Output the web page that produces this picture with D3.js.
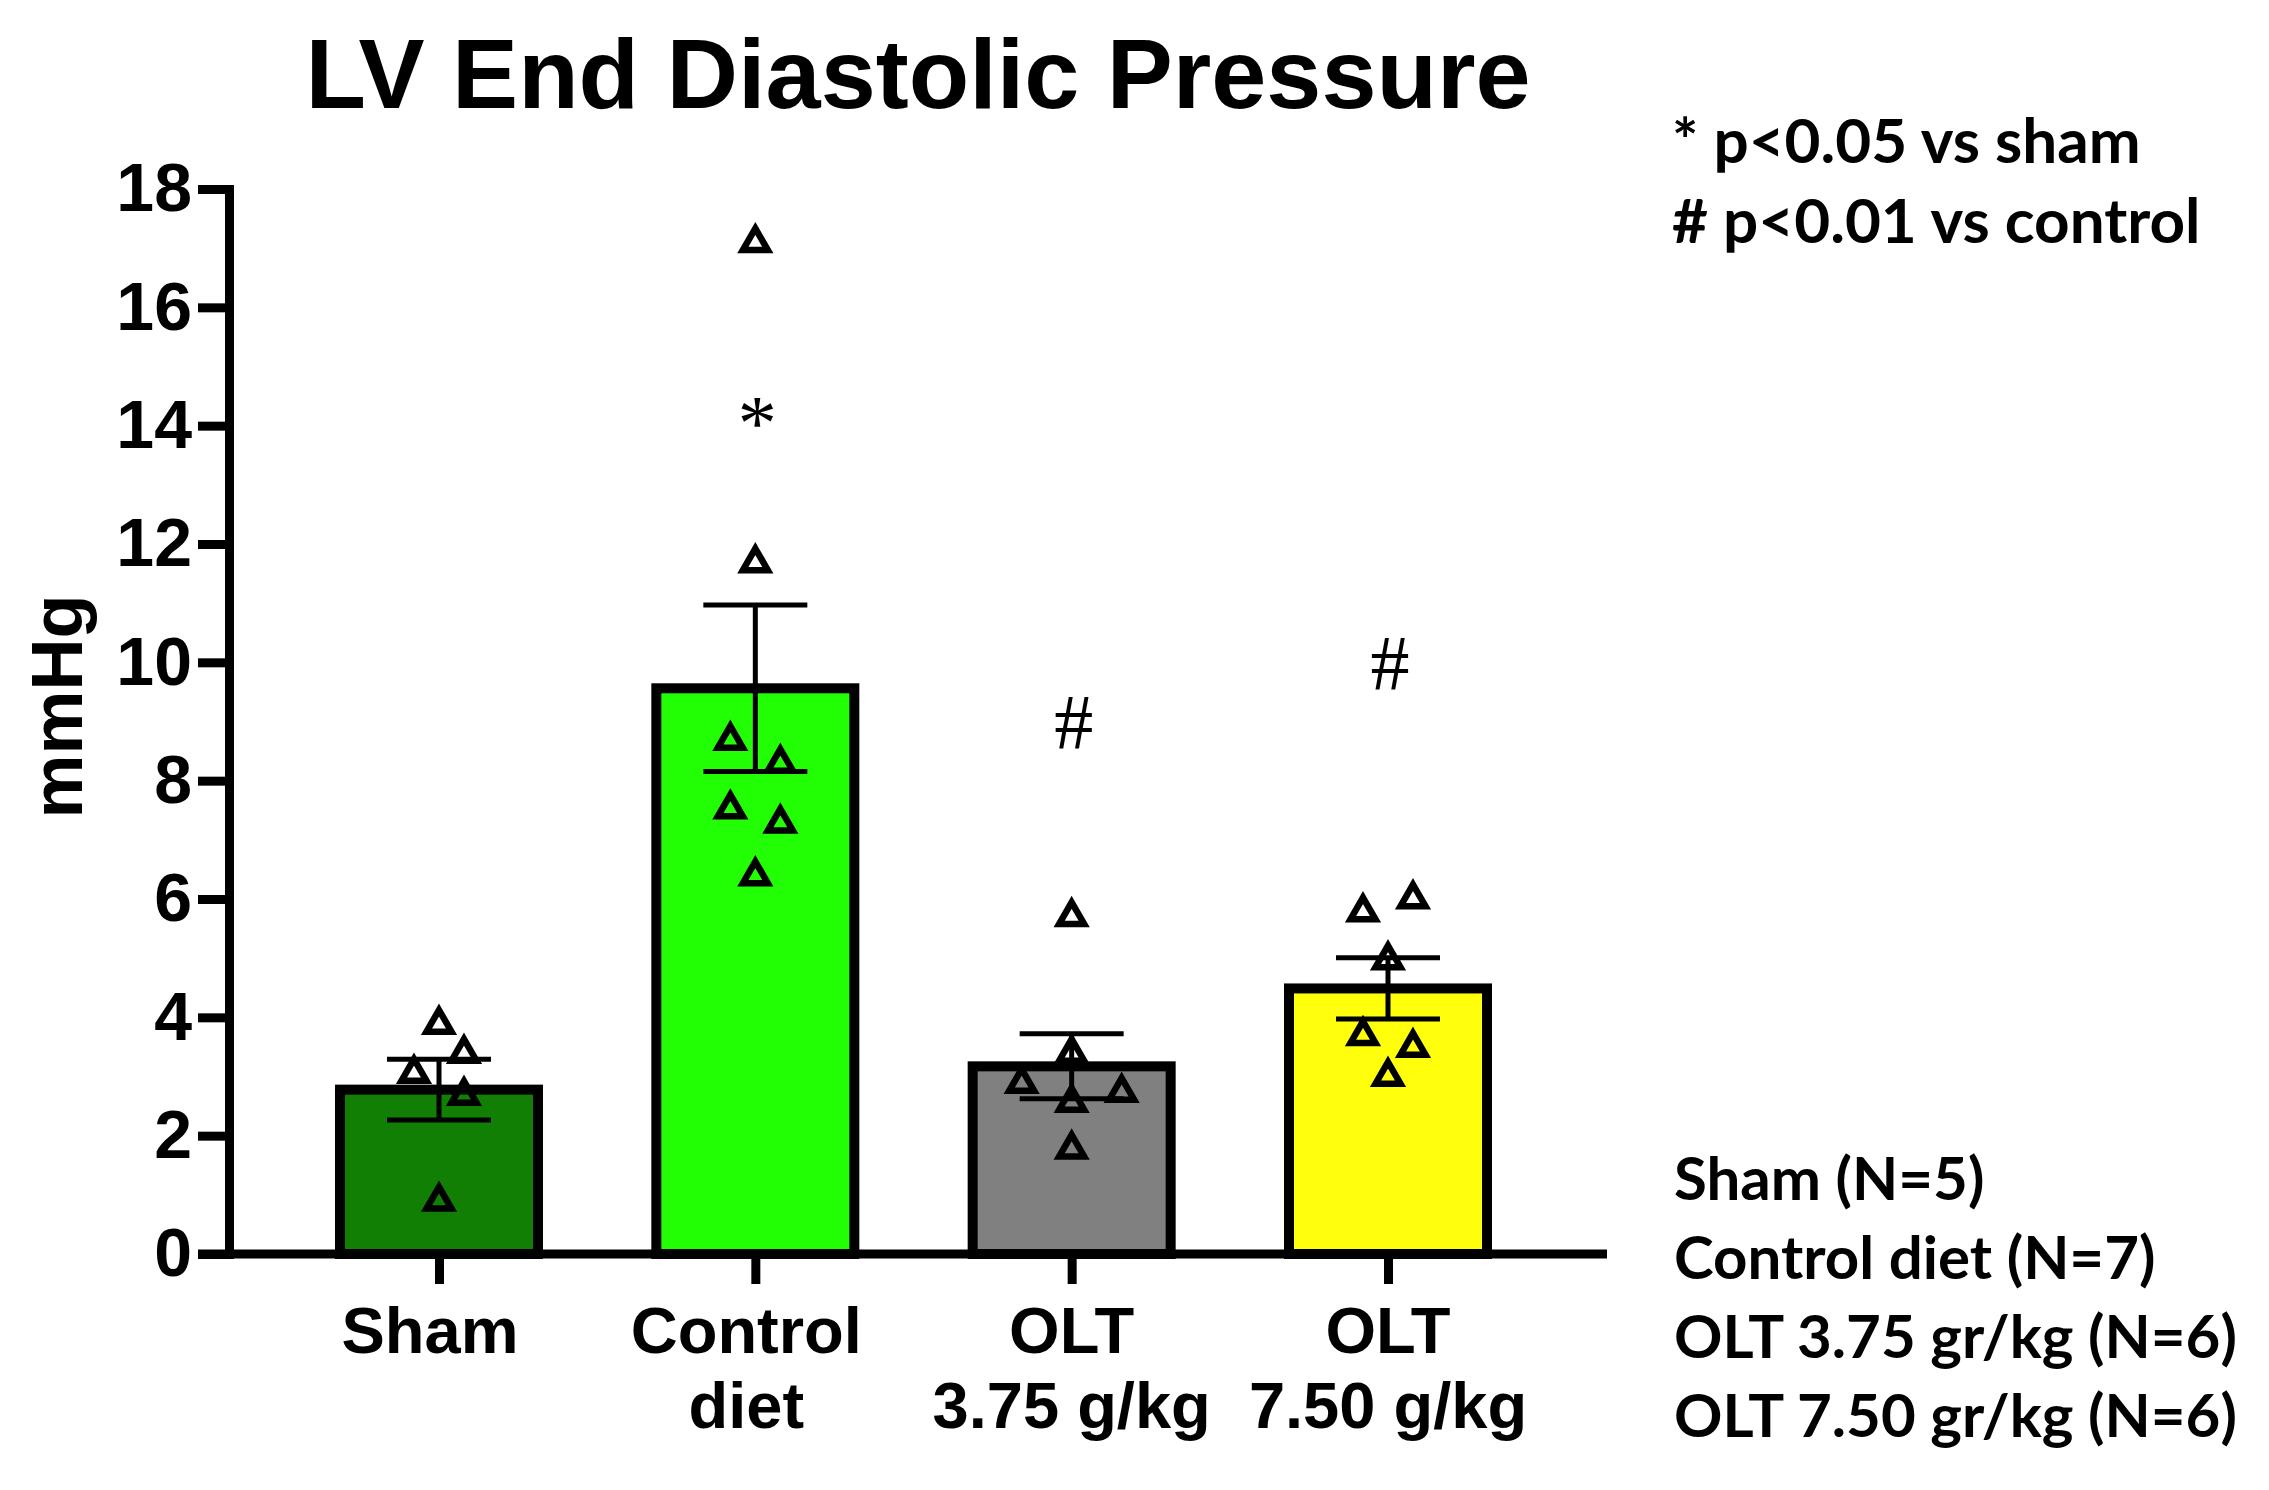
<!DOCTYPE html>
<html>
<head>
<meta charset="utf-8">
<script src="https://cdn.jsdelivr.net/npm/d3@7"></script>
<style>
  body { margin: 0; background: #fff; }
</style>
</head>
<body>
<svg id="chart" width="2269" height="1490"></svg>
<script>
// values
const groups = ["Sham", "Control diet", "OLT 3.75 g/kg", "OLT 7.50 g/kg"];
// prism leaves a trailing space on the first two labels, so they sit a bit left
const groupLabels = [["Sham\u00a0"], ["Control\u00a0", "diet\u00a0"], ["OLT", "3.75 g/kg"], ["OLT", "7.50 g/kg"]];
const barColors = ["#117f04", "#22ff05", "#808080", "#ffff0c"];
const shamValues = [3.88, 3.05, 3.39, 2.68, 0.89];
const controlValues = [17.09, 11.68, 8.68, 8.29, 7.52, 7.28, 6.39];
const olt375Values = [5.7, 3.39, 2.88, 2.56, 2.73, 1.77];
const olt750Values = [5.78, 6.0, 4.97, 3.69, 3.49, 3.0];
const yTicks = [0, 2, 4, 6, 8, 10, 12, 14, 16, 18];
const sigMarks = [
  { group: "Control diet", mark: "*", value: 13.6 },
  { group: "OLT 3.75 g/kg", mark: "#", value: 8.56 },
  { group: "OLT 7.50 g/kg", mark: "#", value: 9.55 },
];
const sigNotes = ["* p<0.05 vs sham", "# p<0.01 vs control"];
const nNotes = ["Sham (N=5)", "Control diet (N=7)", "OLT 3.75 gr/kg (N=6)", "OLT 7.50 gr/kg (N=6)"];

const allValues = [shamValues, controlValues, olt375Values, olt750Values];

const svg = d3.select("#chart");
const arial = "'Liberation Sans', Arial, sans-serif";
const lineW = 9;

const x = d3.scalePoint().domain(groups).range([439, 1388]);
const y = d3.scaleLinear().domain([0, 18]).range([1254, 189]);
const barWidth = 198;

const stats = groups.map((g, i) => {
  const v = allValues[i];
  return {
    group: g,
    color: barColors[i],
    values: v,
    mean: d3.mean(v),
    sem: d3.deviation(v) / Math.sqrt(v.length),
  };
});

// spread the points sideways, rows of close values side by side (like prism does)
function spread(values) {
  const step = 25, rowGap = 26, minDist = 35;
  const order = values.map((v, i) => i).sort((a, b) => values[b] - values[a]);
  const rows = [];
  order.forEach((i) => {
    const row = rows[rows.length - 1];
    if (row && y(values[i]) - y(values[row[0]]) < rowGap) row.push(i);
    else rows.push([i]);
  });
  const dx = values.map(() => 0);
  const placed = [];
  rows.forEach((row) => {
    row.sort((a, b) => a - b);
    if (row.length > 1) {
      row.forEach((i, k) => (dx[i] = (k - (row.length - 1) / 2) * 2 * step));
    } else {
      const i = row[0];
      for (const off of [0, step, -step, 2 * step, -2 * step]) {
        const hit = placed.some(
          (j) => Math.hypot(off - dx[j], y(values[i]) - y(values[j])) < minDist
        );
        if (!hit) { dx[i] = off; break; }
      }
    }
    placed.push(...row);
  });
  return dx;
}

// title
svg.append("text")
  .attr("x", 918)
  .attr("y", 108)
  .attr("text-anchor", "middle")
  .attr("font-family", arial)
  .attr("font-weight", 700)
  .attr("font-size", 99)
  .text("LV End Diastolic Pressure");

// bars
svg.selectAll("rect.bar")
  .data(stats)
  .enter()
  .append("rect")
  .attr("class", "bar")
  .attr("x", (d) => x(d.group) - barWidth / 2)
  .attr("y", (d) => y(d.mean))
  .attr("width", barWidth)
  .attr("height", (d) => y(0) - y(d.mean))
  .attr("fill", (d) => d.color)
  .attr("stroke", "#000")
  .attr("stroke-width", 10);

// error bars (mean +/- SEM)
const err = svg.selectAll("g.err").data(stats).enter().append("g").attr("class", "err");
err.append("line")
  .attr("x1", (d) => x(d.group))
  .attr("x2", (d) => x(d.group))
  .attr("y1", (d) => y(d.mean - d.sem))
  .attr("y2", (d) => y(d.mean + d.sem));
[1, -1].forEach((s) => {
  err.append("line")
    .attr("x1", (d) => x(d.group) - 52)
    .attr("x2", (d) => x(d.group) + 52)
    .attr("y1", (d) => y(d.mean + s * d.sem))
    .attr("y2", (d) => y(d.mean + s * d.sem));
});
err.selectAll("line").attr("stroke", "#000").attr("stroke-width", 5);

// individual animals as open triangles
const tri = d3.symbol().type(d3.symbolTriangle).size(270);
stats.forEach((s) => {
  const dx = spread(s.values);
  svg.append("g")
    .selectAll("path")
    .data(s.values)
    .enter()
    .append("path")
    .attr("d", tri)
    .attr("transform", (v, i) => `translate(${x(s.group) + dx[i]},${y(v)})`)
    .attr("fill", "none")
    .attr("stroke", "#000")
    .attr("stroke-width", 6.5)
    .attr("stroke-linejoin", "miter");
});

// y axis
const yAxis = svg.append("g")
  .attr("transform", "translate(229,0)")
  .call(d3.axisLeft(y).tickValues(yTicks).tickSize(31).tickSizeOuter(0).tickPadding(6));
yAxis.select(".domain").attr("stroke-width", lineW).attr("stroke-linecap", "square");
yAxis.selectAll(".tick line").attr("stroke-width", lineW);
yAxis.selectAll(".tick text")
  .attr("font-family", arial)
  .attr("font-weight", 700)
  .attr("font-size", 68)
  .attr("fill", "#000");

// x axis
svg.append("line")
  .attr("x1", 198)
  .attr("x2", 1607)
  .attr("y1", y(0))
  .attr("y2", y(0))
  .attr("stroke", "#000")
  .attr("stroke-width", lineW);
const xAxis = svg.append("g")
  .attr("transform", `translate(0,${y(0)})`)
  .call(d3.axisBottom(x).tickSize(30).tickSizeOuter(0).tickFormat(""));
xAxis.select(".domain").remove();
xAxis.selectAll(".tick line").attr("stroke-width", lineW);

svg.selectAll("text.xlab")
  .data(groups)
  .enter()
  .append("text")
  .attr("class", "xlab")
  .attr("text-anchor", "middle")
  .attr("font-family", arial)
  .attr("font-weight", 700)
  .attr("font-size", 65)
  .each(function (g, i) {
    d3.select(this)
      .selectAll("tspan")
      .data(groupLabels[i])
      .enter()
      .append("tspan")
      .attr("x", x(g))
      .attr("y", (t, k) => 1353 + k * 75)
      .text((t) => t);
  });

// y axis title
svg.append("text")
  .attr("transform", `translate(82,${(y(0) + y(18)) / 2 - 15}) rotate(-90)`)
  .attr("text-anchor", "middle")
  .attr("font-family", arial)
  .attr("font-weight", 700)
  .attr("font-size", 72)
  .text("mmHg");

// significance marks
svg.selectAll("text.sig")
  .data(sigMarks)
  .enter()
  .append("text")
  .attr("class", "sig")
  .attr("x", (d) => x(d.group) + 2)
  .attr("y", (d) => y(d.value))
  .attr("text-anchor", "middle")
  .attr("font-family", "'Liberation Serif', 'Times New Roman', serif")
  .attr("font-size", 78)
  .text((d) => d.mark);

// notes on the right
const noteFont = "Lato, 'Open Sans', sans-serif";
svg.selectAll("text.sigNote")
  .data(sigNotes)
  .enter()
  .append("text")
  .attr("class", "sigNote")
  .attr("x", 1672)
  .attr("y", (d, i) => 163 + i * 80)
  .attr("font-family", noteFont)
  .attr("font-weight", 700)
  .attr("font-size", 62)
  .text((d) => d);

svg.selectAll("text.nNote")
  .data(nNotes)
  .enter()
  .append("text")
  .attr("class", "nNote")
  .attr("x", 1674)
  .attr("y", (d, i) => 1200 + i * 79)
  .attr("font-family", noteFont)
  .attr("font-weight", 700)
  .attr("font-size", 60)
  .text((d) => d);
</script>
</body>
</html>
